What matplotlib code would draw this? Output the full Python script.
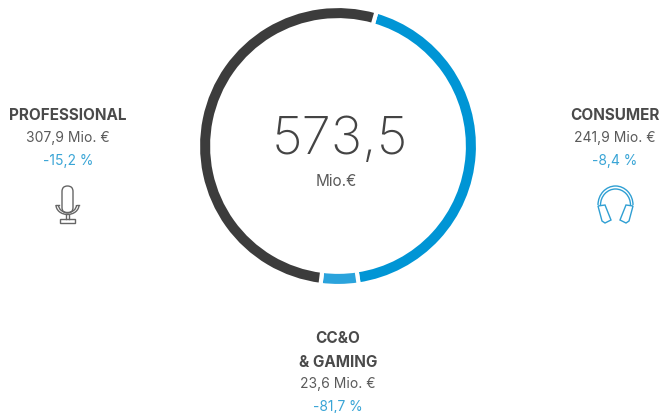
import matplotlib
matplotlib.use("Agg")
import matplotlib.pyplot as plt
from matplotlib.patches import Arc, FancyBboxPatch, Polygon

W, H = 659, 414

segments = ["CONSUMER", "CC&O\n& GAMING", "PROFESSIONAL"]
revenue_labels = ["241,9 Mio. €", "23,6 Mio. €", "307,9 Mio. €"]
change_labels = ["-8,4 %", "-81,7 %", "-15,2 %"]
total_label = "573,5"
total_unit = "Mio.€"
# arc lengths in degrees as measured on the ring, not quite proportional to the labels
ring_arcs = [155.5, 15.7, 188.8]
ring_colors = ["#0095d5", "#2aa3dc", "#3c3c3c"]

DARK = "#4a4a4a"
GREY = "#5a5a5a"
BLUE = "#3aa5d6"

plt.rcParams['font.family'] = ['Inter', 'Roboto', 'DejaVu Sans']

fig = plt.figure(figsize=(W / 100, H / 100), dpi=100)
ax = fig.add_axes([0, 0, 1, 1])

# y axis runs downwards, so counterclock=True draws clockwise on screen
ax.pie(ring_arcs, colors=ring_colors, startangle=-74, counterclock=True,
       center=(338, 147), radius=140, frame=True,
       wedgeprops=dict(width=14.2, edgecolor="white", linewidth=3))
ax.set_xlim(0, W)
ax.set_ylim(H, 0)
ax.set_aspect("equal")
ax.axis("off")

ax.text(340, 141, total_label, fontsize=38, color="#444444", ha="center", va="center", fontweight="light")
ax.text(336, 182, total_unit, fontsize=11, color=GREY, ha="center", va="center")


def label_block(x, y, idx, step=23):
    ax.text(x, y + 1, segments[idx], fontsize=11, fontweight="bold", color=DARK, ha="center", va="center",
            linespacing=1.7)
    ny = y + step if "\n" not in segments[idx] else y + step * 1.5
    ax.text(x, ny, revenue_labels[idx], fontsize=10, color=GREY, ha="center", va="center")
    ax.text(x, ny + step, change_labels[idx], fontsize=10, color=BLUE, ha="center", va="center")


label_block(68, 115, 2)
label_block(615, 115, 0)
label_block(338, 349.5, 1)


def mic(cx, top, col="#666666"):
    ax.add_patch(FancyBboxPatch((cx - 5.5, top), 11, 27, boxstyle="round,pad=0,rounding_size=5.5",
                                fc="none", ec=col, lw=1))
    ax.add_patch(Arc((cx, top + 19), 23, 19, theta1=0, theta2=180, ec=col, lw=1))
    ax.add_patch(Arc((cx, top + 19), 18, 15, theta1=0, theta2=180, ec=col, lw=1))
    ax.plot([cx - 11.5, cx - 9], [top + 19, top + 19], color=col, lw=1)
    ax.plot([cx + 9, cx + 11.5], [top + 19, top + 19], color=col, lw=1)
    ax.plot([cx - 1.5, cx - 1.5], [top + 28.5, top + 33], color=col, lw=1)
    ax.plot([cx + 1.5, cx + 1.5], [top + 28.5, top + 33], color=col, lw=1)
    ax.add_patch(plt.Rectangle((cx - 7.5, top + 33), 15, 3.5, fc="none", ec=col, lw=1))


def headphones(cx, top, col="#2f9fd3"):
    ax.add_patch(Arc((cx, top + 19), 35, 38, theta1=180, theta2=360, ec=col, lw=1))
    ax.add_patch(Arc((cx, top + 19), 30, 32, theta1=180, theta2=360, ec=col, lw=1))
    for s in (-1, 1):
        ax.add_patch(Polygon([(cx + s * 17.5, top + 20), (cx + s * 10.5, top + 19), (cx + s * 4.5, top + 34),
                              (cx + s * 10.5, top + 37), (cx + s * 13.5, top + 35)],
                             closed=True, fc="none", ec=col, lw=1))


mic(67.5, 187)
headphones(615.5, 187)

fig.savefig("out.png", dpi=100)
